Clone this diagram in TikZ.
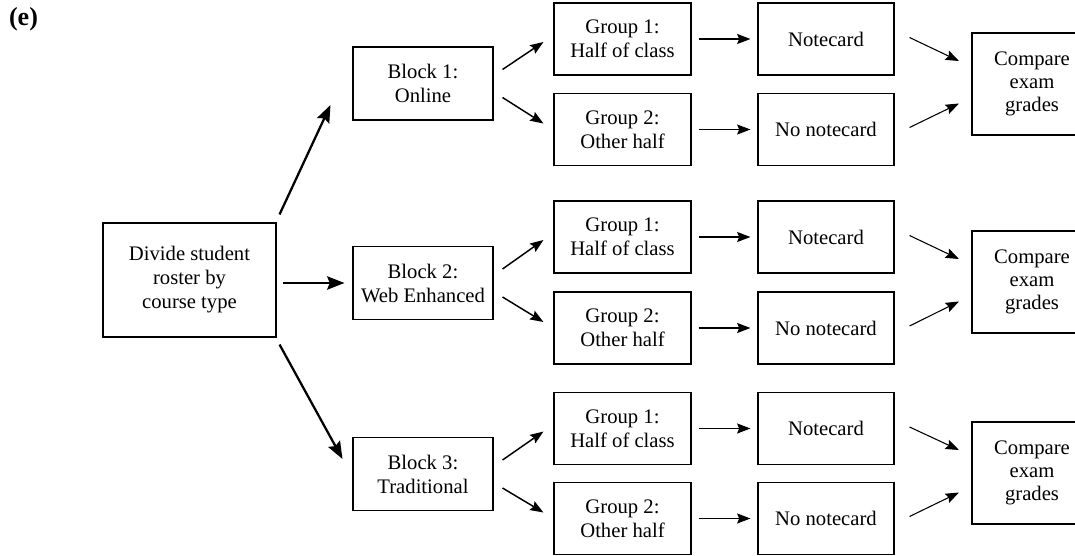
\documentclass[tikz,border=0pt]{standalone}
\usepackage{fontspec}
\setmainfont{Liberation Serif}
\usetikzlibrary{arrows.meta}

\tikzset{
  boite/.style={draw, line width=0.8pt, align=center, inner sep=2pt,
    font=\fontsize{15.5}{18}\selectfont},
  racine/.style={boite, minimum width=129.75pt, minimum height=85.5pt},
  bloc/.style={boite, minimum width=105pt, minimum height=54.75pt},
  groupe/.style={boite, minimum width=102.75pt, minimum height=54pt},
  carte/.style={boite, minimum width=102pt, minimum height=54pt},
  comparer/.style={boite, minimum width=90pt, minimum height=76.5pt,
    font=\fontsize{15.5}{17.5}\selectfont},
  grosse/.style={-{Stealth[length=13pt,width=10pt,inset=2pt]}, line width=1.7pt},
  fleche/.style={-{Stealth[length=10pt,width=7.5pt,inset=1.5pt]}, line width=1.1pt},
  droite/.style={fleche, shorten <=5.25pt, shorten >=5.25pt},
  fine/.style={-{Stealth[length=10pt,width=7.5pt,inset=1.5pt]}, line width=0.8pt},
}

\begin{document}
\begin{tikzpicture}[x=0.75pt, y=-0.75pt]
  % Cadre de l'image
  \useasboundingbox (0,0) rectangle (1075,556);
  \clip (0,0) rectangle (1075,556);

  \node[font=\fontsize{19.5}{22}\selectfont\bfseries] (lettre) at (23.5,19) {(e)};

  % Liste des etudiants
  \node[racine] (racine) at (189.5,280) {Divide student\\roster by\\course type};

  % Les trois blocs
  \node[bloc] (b1) at (423,83.5) {Block 1:\\Online};
  \node[bloc] (b2) at (423,283) {Block 2:\\Web Enhanced};
  \node[bloc] (b3) at (423,474) {Block 3:\\Traditional};

  \draw[grosse] ([shift={(3,-8)}]racine.north east) -- ([shift={(-22,-15.5)}]b1.south west);
  \draw[grosse] ([shift={(6,3)}]racine.east) -- ([shift={(-8,0)}]b2.west);
  \draw[grosse] ([shift={(3,7)}]racine.south east) -- ([shift={(-10,22)}]b3.north west);

  % Bloc 1
  \node[groupe] (b1g1) at (622.5,39) {Group 1:\\Half of class};
  \node[groupe] (b1g2) at (622.5,129.5) {Group 2:\\Other half};
  \node[carte] (b1n) at (826,39) {Notecard};
  \node[carte] (b1sn) at (826,129.5) {No notecard};
  \node[comparer] (b1c) at (1032,84) {Compare\\exam\\grades};

  \draw[fleche] ([shift={(9,-14)}]b1.east) -- ([shift={(-10,3)}]b1g1.west);
  \draw[fleche] ([shift={(9,14)}]b1.east) -- ([shift={(-10,-6)}]b1g2.west);
  \draw[droite] (b1g1) -- (b1n);
  \draw[droite] (b1g2) -- (b1sn);
  \draw[fine] ([shift={(15,-1.5)}]b1n.east) -- ([shift={(-12.5,-23)}]b1c.west);
  \draw[fine] ([shift={(15,-2)}]b1sn.east) -- ([shift={(-12.5,19.5)}]b1c.west);

  % Bloc 2
  \node[groupe] (b2g1) at (622.5,237) {Group 1:\\Half of class};
  \node[groupe] (b2g2) at (622.5,328) {Group 2:\\Other half};
  \node[carte] (b2n) at (826,237) {Notecard};
  \node[carte] (b2sn) at (826,328) {No notecard};
  \node[comparer] (b2c) at (1032,282) {Compare\\exam\\grades};

  \draw[fleche] ([shift={(9,-14)}]b2.east) -- ([shift={(-10,3)}]b2g1.west);
  \draw[fleche] ([shift={(9,14)}]b2.east) -- ([shift={(-10,-6)}]b2g2.west);
  \draw[droite] (b2g1) -- (b2n);
  \draw[droite] (b2g2) -- (b2sn);
  \draw[fine] ([shift={(15,-1.5)}]b2n.east) -- ([shift={(-12.5,-23)}]b2c.west);
  \draw[fine] ([shift={(15,-2)}]b2sn.east) -- ([shift={(-12.5,19.5)}]b2c.west);

  % Bloc 3
  \node[groupe] (b3g1) at (622.5,428.5) {Group 1:\\Half of class};
  \node[groupe] (b3g2) at (622.5,518.5) {Group 2:\\Other half};
  \node[carte] (b3n) at (826,428.5) {Notecard};
  \node[carte] (b3sn) at (826,518.5) {No notecard};
  \node[comparer] (b3c) at (1032,473) {Compare\\exam\\grades};

  \draw[fleche] ([shift={(9,-14)}]b3.east) -- ([shift={(-10,3)}]b3g1.west);
  \draw[fleche] ([shift={(9,14)}]b3.east) -- ([shift={(-10,-6)}]b3g2.west);
  \draw[droite] (b3g1) -- (b3n);
  \draw[droite] (b3g2) -- (b3sn);
  \draw[fine] ([shift={(15,-1.5)}]b3n.east) -- ([shift={(-12.5,-23)}]b3c.west);
  \draw[fine] ([shift={(15,-2)}]b3sn.east) -- ([shift={(-12.5,19.5)}]b3c.west);

\end{tikzpicture}
\end{document}
